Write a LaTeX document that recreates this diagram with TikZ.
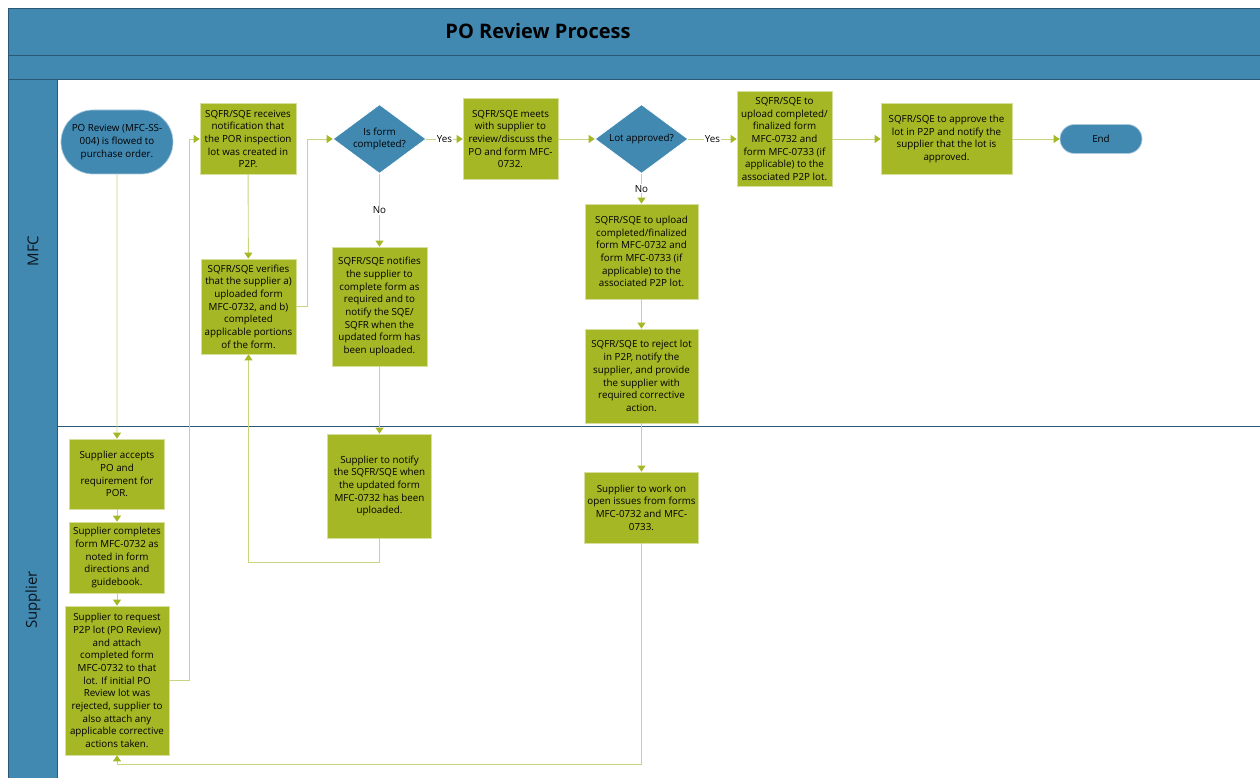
\documentclass[tikz,border=0pt]{standalone}
\usepackage{fontspec}
\setmainfont{Open Sans}
\usetikzlibrary{positioning,shapes.geometric,shapes.misc,arrows.meta}

\definecolor{laneblue}{RGB}{66,137,178}
\definecolor{lanedark}{RGB}{44,88,118}
\definecolor{boxgreen}{RGB}{166,183,38}
\definecolor{linegreen}{RGB}{200,212,128}

\begin{document}
\begin{tikzpicture}[x=1pt,y=-1pt,
    font=\fontsize{9.8}{12.7}\selectfont,
    proc/.style={draw=boxgreen!45!white, line width=0.7pt, fill=boxgreen,
      align=center, inner sep=1pt},
    term/.style={rounded rectangle, draw=laneblue!45!white, line width=0.7pt,
      fill=laneblue, align=center, inner sep=1pt},
    decide/.style={diamond, aspect=1.33, draw=white, line width=0.7pt,
      fill=laneblue, align=center, inner sep=0pt,
      minimum width=93pt, minimum height=69pt},
    flow/.style={draw=linegreen, line width=0.9pt,
      -{Triangle[color=boxgreen,width=8pt,length=6pt]}},
    lbl/.style={fill=white, inner sep=1pt}
  ]
  \useasboundingbox (0,0) rectangle (1260,778);

  % swimlane frame
  \draw[lanedark, fill=laneblue] (8,8) rectangle (1270,55);
  \draw[lanedark, fill=laneblue] (8,55) rectangle (1270,79);
  \draw[lanedark, fill=laneblue] (8,79) rectangle (57,790);
  \draw[lanedark] (57,426) -- (1270,426);
  \node[font=\fontsize{20}{22}\selectfont\bfseries] (title) at (538,31) {PO Review Process};
  \node[rotate=90, font=\fontsize{15}{17}\selectfont, text=black!85!laneblue] (mfc) at (33,251) {MFC};
  \node[rotate=90, font=\fontsize{15}{17}\selectfont, text=black!85!laneblue] (supplier) at (33,600) {Supplier};

  % MFC lane, top row
  \node[term, minimum width=114pt, minimum height=64pt] (start) at (117,142)
    {PO Review (MFC-SS-\\004) is flowed to\\purchase order.};
  \node[proc, minimum width=96pt, minimum height=71pt] (recv) at (248,139)
    {SQFR/SQE receives\\notification that\\the POR inspection\\lot was created in\\P2P.};
  \node[decide] (formdone) at (379.5,139) {Is form\\completed?};
  \node[proc, minimum width=95pt, minimum height=81pt] (meet) at (510.5,139)
    {SQFR/SQE meets\\with supplier to\\review/discuss the\\PO and form MFC-\\0732.};
  \node[decide] (lotok) at (641.5,139) {Lot approved?};
  \node[proc, minimum width=95pt, minimum height=95pt] (uploadyes) at (784.5,139)
    {SQFR/SQE to\\upload completed/\\finalized form\\MFC-0732 and\\form MFC-0733 (if\\applicable) to the\\associated P2P lot.};
  \node[proc, minimum width=131pt, minimum height=71pt] (approve) at (946.5,139)
    {SQFR/SQE to approve the\\lot in P2P and notify the\\supplier that the lot is\\approved.};
  \node[term, minimum width=84pt, minimum height=29pt] (end) at (1101,139) {End};

  % MFC lane, lower row
  \node[proc, minimum width=95pt, minimum height=95pt] (verify) at (248.5,306.5)
    {SQFR/SQE verifies\\that the supplier a)\\uploaded form\\MFC-0732, and b)\\completed\\applicable portions\\of the form.};
  \node[proc, minimum width=95pt, minimum height=119pt] (notify) at (379.5,306.5)
    {SQFR/SQE notifies\\the supplier to\\complete form as\\required and to\\notify the SQE/\\SQFR when the\\updated form has\\been uploaded.};
  \node[proc, minimum width=113pt, minimum height=95pt] (uploadno) at (641.5,251.5)
    {SQFR/SQE to upload\\completed/finalized\\form MFC-0732 and\\form MFC-0733 (if\\applicable) to the\\associated P2P lot.};
  \node[proc, minimum width=113pt, minimum height=94pt] (reject) at (641.5,376)
    {SQFR/SQE to reject lot\\in P2P, notify the\\supplier, and provide\\the supplier with\\required corrective\\action.};

  % Supplier lane
  \node[proc, minimum width=95pt, minimum height=70pt] (accept) at (117,474)
    {Supplier accepts\\PO and\\requirement for\\POR.};
  \node[proc, minimum width=95pt, minimum height=71pt] (complete) at (117,557.5)
    {Supplier completes\\form MFC-0732 as\\noted in form\\directions and\\guidebook.};
  \node[proc, minimum width=104pt, minimum height=149pt] (request) at (117,680.5)
    {Supplier to request\\P2P lot (PO Review)\\and attach\\completed form\\MFC-0732 to that\\lot. If initial PO\\Review lot was\\rejected, supplier to\\also attach any\\applicable corrective\\actions taken.};
  \node[proc, minimum width=104pt, minimum height=104pt] (supnotify) at (379.5,486)
    {Supplier to notify\\the SQFR/SQE when\\the updated form\\MFC-0732 has been\\uploaded.};
  \node[proc, minimum width=114pt, minimum height=71pt] (rework) at (641.5,507.5)
    {Supplier to work on\\open issues from forms\\MFC-0732 and MFC-\\0733.};

  % connectors
  \draw[flow] (start) -- (accept);
  \draw[flow] (accept) -- (complete);
  \draw[flow] (complete) -- (request);
  \draw[flow] (request.east) -- ++(20,0) |- (recv.west);
  \draw[flow] (recv) -- (verify);
  \draw[flow] (verify.east) -- ++(11,0) |- (formdone.west);
  \draw[flow] (formdone) -- node[lbl] {Yes} (meet);
  \draw[flow] (formdone) -- node[lbl] {No} (notify);
  \draw[flow] (notify) -- (supnotify);
  \draw[flow] (supnotify.south) -- ++(0,24) -| (verify.south);
  \draw[flow] (meet) -- (lotok);
  \draw[flow] (lotok) -- node[lbl] {Yes} (uploadyes);
  \draw[flow] (lotok) -- node[lbl] {No} (uploadno);
  \draw[flow] (uploadyes) -- (approve);
  \draw[flow] (approve) -- (end);
  \draw[flow] (uploadno) -- (reject);
  \draw[flow] (reject) -- (rework);
  \draw[flow] (rework.south) -- ++(0,221) -| (request.south);

\end{tikzpicture}
\end{document}
